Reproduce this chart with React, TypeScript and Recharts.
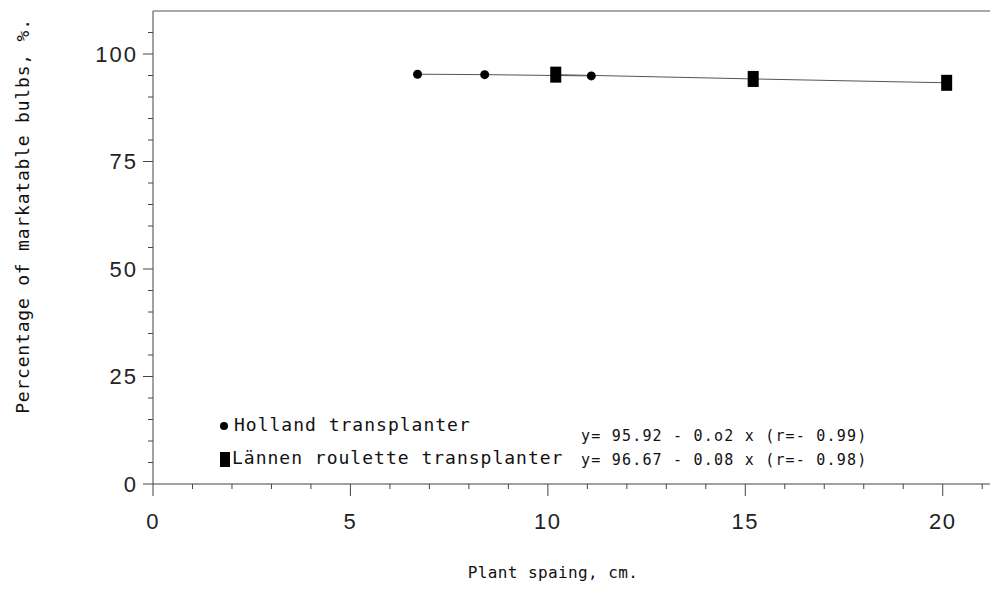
import { LineChart, Line, XAxis, YAxis, ReferenceLine } from "recharts";

// plant spacing (cm) -> percentage of marketable bulbs
const hollandX = [6.7, 8.4, 11.1];
const hollandY = [95.3, 95.2, 94.9];
const lannenX = [10.2, 15.2, 20.1];
const lannenY = [95.2, 94.2, 93.3];

const xTicks = [0, 1, 2, 3, 4, 5, 6, 7, 8, 9, 10, 11, 12, 13, 14, 15, 16, 17, 18, 19, 20, 21];
const yTicks = [0, 5, 10, 15, 20, 25, 30, 35, 40, 45, 50, 55, 60, 65, 70, 75, 80, 85, 90, 95, 100, 105];

const holland = hollandX.map((x, i) => ({ x, y: hollandY[i] }));
const lannen = lannenX.map((x, i) => ({ x, y: lannenY[i] }));

const MONO = "'DejaVu Sans Mono', monospace";
const SANS = "'Liberation Sans', Arial, sans-serif";

const XTick = (props: any) => {
  const { x, y, payload } = props;
  const major = payload.value % 5 === 0;
  return (
    <g>
      <line x1={x} x2={x} y1={y} y2={y + (major ? 12 : 5)} stroke="#444" strokeWidth={1} />
      {major && (
        <text x={x} y={y + 45} textAnchor="middle" fontFamily={SANS} fontSize={22} letterSpacing={1.5} fill="#222">
          {payload.value}
        </text>
      )}
    </g>
  );
};

const YTick = (props: any) => {
  const { x, y, payload } = props;
  const major = payload.value % 25 === 0;
  return (
    <g>
      <line x1={x - (major ? 10 : 5)} x2={x} y1={y} y2={y} stroke="#444" strokeWidth={1} />
      {major && (
        <text x={x - 15} y={y} dy="0.35em" textAnchor="end" fontFamily={SANS} fontSize={22} letterSpacing={2} fill="#222">
          {payload.value}
        </text>
      )}
    </g>
  );
};

const Circle = (props: any) => {
  const { cx, cy } = props;
  return <circle cx={cx} cy={cy} r={4.5} fill="#000" />;
};

const Box = (props: any) => {
  const { cx, cy } = props;
  return <rect x={cx - 5.5} y={cy - 8} width={11} height={16} fill="#000" />;
};

const LegendBox = () => (
  <div style={{ position: "absolute", left: 212, top: 406, width: 700, height: 60, fontFamily: MONO, color: "#111" }}>
    <div style={{ position: "absolute", left: 0, top: 0, fontSize: 18, letterSpacing: 1, whiteSpace: "nowrap" }}>
      <span style={{ display: "inline-block", width: 8, height: 8, borderRadius: 4, background: "#000", marginRight: 6, verticalAlign: "middle" }} />
      Holland transplanter
    </div>
    <div style={{ position: "absolute", left: 0, top: 33, fontSize: 18, letterSpacing: 1, whiteSpace: "nowrap" }}>
      <span style={{ display: "inline-block", width: 10, height: 15, background: "#000", marginRight: 2, verticalAlign: "middle" }} />
      Lännen roulette transplanter
    </div>
    <div style={{ position: "absolute", left: 361, top: 13, fontSize: 15, letterSpacing: 1.2, whiteSpace: "nowrap" }}>
      y= 95.92 - 0.o2 x (r=- 0.99)
    </div>
    <div style={{ position: "absolute", left: 361, top: 37, fontSize: 15, letterSpacing: 1.2, whiteSpace: "nowrap" }}>
      y= 96.67 - 0.08 x (r=- 0.98)
    </div>
  </div>
);

export default function App() {
  return (
    <div style={{ position: "relative", width: 990, height: 582, background: "#fff" }}>
      <LineChart width={990} height={582} margin={{ top: 3, right: 0, bottom: 0, left: 0 }}>
        <XAxis
          dataKey="x"
          type="number"
          domain={[0, 21.4]}
          allowDataOverflow
          ticks={xTicks}
          interval={0}
          tick={<XTick />}
          tickLine={false}
          tickSize={0}
          tickMargin={0}
          height={106}
          stroke="#444"
        />
        <YAxis
          dataKey="y"
          type="number"
          domain={[0, 110]}
          ticks={yTicks}
          interval={0}
          tick={<YTick />}
          tickLine={false}
          tickSize={0}
          tickMargin={0}
          width={145}
          stroke="#444"
        />
        <ReferenceLine y={110} stroke="#555" strokeWidth={1} />
        <Line data={holland} dataKey="y" stroke="#555" strokeWidth={1} dot={<Circle />} isAnimationActive={false} />
        <Line data={lannen} dataKey="y" stroke="#555" strokeWidth={1} dot={<Box />} isAnimationActive={false} />
      </LineChart>
      <LegendBox />
      <div
        style={{
          position: "absolute",
          left: 14,
          top: 208,
          transform: "translate(-50%, -50%) rotate(-90deg)",
          fontFamily: MONO,
          fontSize: 18,
          letterSpacing: 0.8,
          whiteSpace: "nowrap",
          color: "#111",
        }}
      >
        Percentage of markatable bulbs, %.
      </div>
      <div
        style={{
          position: "absolute",
          left: 545,
          top: 564,
          transform: "translate(-50%, -50%)",
          fontFamily: MONO,
          fontSize: 16,
          letterSpacing: 0.4,
          whiteSpace: "nowrap",
          color: "#111",
        }}
      >
        Plant spaing, cm.
      </div>
    </div>
  );
}
